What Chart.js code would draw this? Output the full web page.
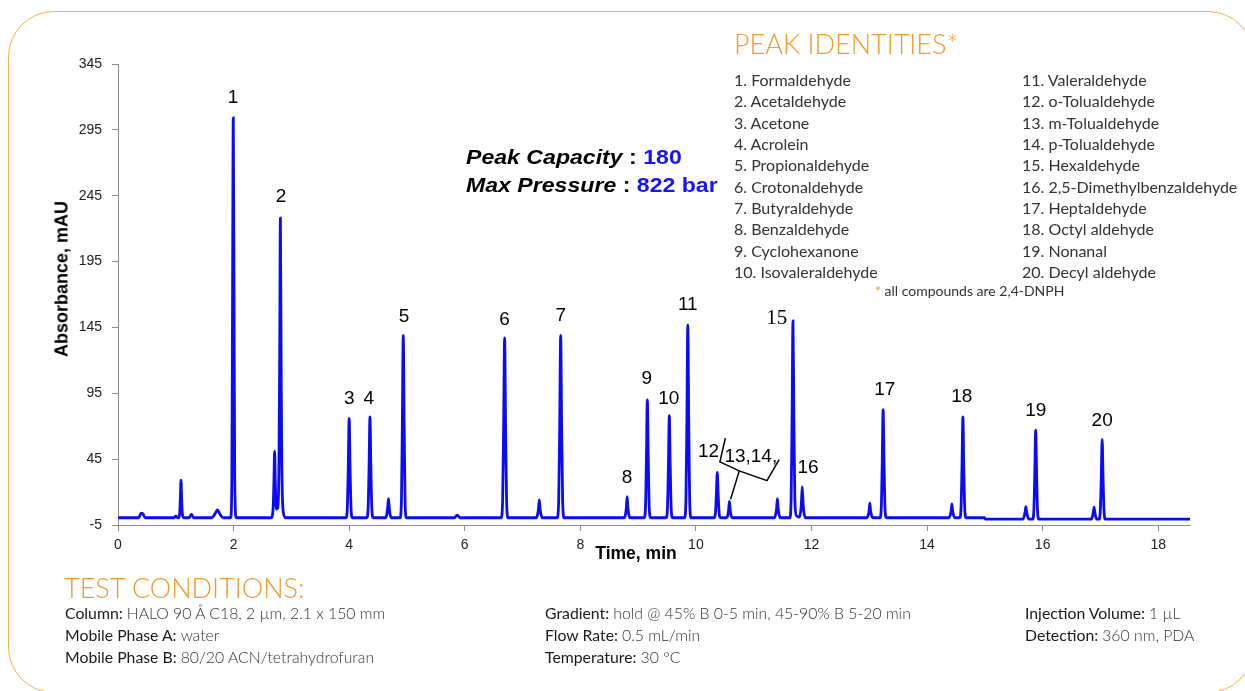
<!DOCTYPE html>
<html><head><meta charset="utf-8">
<script src="https://cdn.jsdelivr.net/npm/chart.js@4"></script>
<style>
html,body{margin:0;padding:0;background:#fff;}
#wrap{position:relative;width:1245px;height:691px;overflow:hidden;font-family:Lato,'Open Sans',sans-serif;color:#333;}
#frame{position:absolute;left:8px;top:11px;width:1246px;height:682px;border:1.5px solid #f8ad4e;border-radius:46px;box-sizing:border-box;}
#c{position:absolute;left:0;top:0;}
.t{position:absolute;white-space:nowrap;}
.orange{color:#f7982a;font-weight:300;}
.list{font-size:16px;line-height:21.35px;color:#333;}
.cond{font-size:15.8px;line-height:22px;color:#333;}
.cond b{font-weight:400;color:#1a1a1a;}
.cond span{font-weight:300;}
.pc{font-family:'Liberation Sans',Arial,sans-serif;font-weight:bold;font-size:21px;line-height:28px;color:#000;transform:scaleX(1.1);transform-origin:0 0;}
.pc i{font-style:italic;}
.pc .v{color:#1414ff;}
.axt{font-family:'Liberation Sans',Arial,sans-serif;font-weight:bold;font-size:17.5px;color:#000;}
</style></head>
<body>
<div id="wrap">
<div id="frame"></div>
<canvas id="c" width="1245" height="691"></canvas>

<div class="t axt" style="left:62px;top:279px;font-size:18px;transform:translate(-50%,-50%) rotate(-90deg);">Absorbance, mAU</div>
<div class="t axt" style="left:636px;top:553px;transform:translate(-50%,-50%);">Time, min</div>

<div class="t pc" style="left:466px;top:143px;"><i>Peak Capacity</i> : <span class="v">180</span><br><i>Max Pressure</i> : <span class="v">822 bar</span></div>

<div class="t orange" style="left:734px;top:27px;font-size:27px;line-height:34px;">PEAK IDENTITIES*</div>
<div class="t list" style="left:734px;top:69px;">1. Formaldehyde<br>2. Acetaldehyde<br>3. Acetone<br>4. Acrolein<br>5. Propionaldehyde<br>6. Crotonaldehyde<br>7. Butyraldehyde<br>8. Benzaldehyde<br>9. Cyclohexanone<br>10. Isovaleraldehyde</div>
<div class="t list" style="left:1022px;top:69px;">11. Valeraldehyde<br>12. o-Tolualdehyde<br>13. m-Tolualdehyde<br>14. p-Tolualdehyde<br>15. Hexaldehyde<br>16. 2,5-Dimethylbenzaldehyde<br>17. Heptaldehyde<br>18. Octyl aldehyde<br>19. Nonanal<br>20. Decyl aldehyde</div>
<div class="t" style="left:875px;top:282px;font-size:14px;line-height:18px;color:#333;"><span style="color:#f7982a">*</span> all compounds are 2,4-DNPH</div>

<div class="t orange" style="left:64px;top:571px;font-size:27px;line-height:34px;">TEST CONDITIONS:</div>
<div class="t cond" style="left:65px;top:602px;"><b>Column:</b> <span>HALO 90 Å C18, 2 µm, 2.1 x 150 mm</span><br><b>Mobile Phase A:</b> <span>water</span><br><b>Mobile Phase B:</b> <span>80/20 ACN/tetrahydrofuran</span></div>
<div class="t cond" style="left:545px;top:602px;"><b>Gradient:</b> <span>hold @ 45% B 0-5 min, 45-90% B 5-20 min</span><br><b>Flow Rate:</b> <span>0.5 mL/min</span><br><b>Temperature:</b> <span>30 °C</span></div>
<div class="t cond" style="left:1025px;top:602px;"><b>Injection Volume:</b> <span>1 µL</span><br><b>Detection:</b> <span>360 nm, PDA</span></div>
</div>

<script>
// ---- data ----
const xTicks = [0, 2, 4, 6, 8, 10, 12, 14, 16, 18];
const yTicks = [-5, 45, 95, 145, 195, 245, 295, 345];

// chromatogram trace: [time (min), absorbance (mAU)]
const chromatogram = [
  [0,0.5],[0.36,0.5],[0.40,4],[0.43,3.5],[0.47,0.5],
  [0.97,0.5],[1.0,2],[1.03,0.5],
  [1.045,0.5],[1.065,3],[1.078,14],[1.09,29],[1.102,14],[1.115,3],[1.14,0.5],
  [1.23,0.5],[1.27,3],[1.31,0.5],
  [1.62,0.5],[1.68,3.5],[1.72,6.5],[1.76,3.5],[1.82,0.5],
  [1.95,0.5],[1.97,30],[1.981,150],[1.995,304],[2.009,150],[2.02,30],[2.045,0.5],
  [2.65,0.5],[2.685,8],[2.698,28],[2.71,51],[2.722,28],[2.74,7],[2.765,8],[2.785,40],[2.797,115],[2.81,228],[2.823,115],[2.835,40],[2.86,5],[2.9,0.5],
  [3.945,0.5],[3.968,8],[3.984,38],[4.0,76],[4.016,38],[4.032,8],[4.055,0.5],
  [4.305,0.5],[4.328,8],[4.344,38],[4.36,77],[4.376,38],[4.392,8],[4.415,0.5],
  [4.63,0.5],[4.655,4],[4.668,9],[4.68,15],[4.692,9],[4.705,4],[4.73,0.5],
  [4.88,0.5],[4.905,14],[4.92,70],[4.936,139],[4.952,70],[4.967,14],[4.99,0.5],
  [5.82,0.5],[5.87,2.5],[5.92,0.5],
  [6.63,0.5],[6.656,14],[6.673,70],[6.69,137],[6.707,70],[6.724,14],[6.75,0.5],
  [7.24,0.5],[7.265,4],[7.278,8],[7.29,14],[7.302,8],[7.315,4],[7.34,0.5],
  [7.60,0.5],[7.626,14],[7.643,70],[7.66,139],[7.677,70],[7.694,14],[7.72,0.5],
  [8.76,0.5],[8.785,4],[8.798,9],[8.81,16.5],[8.822,9],[8.835,4],[8.86,0.5],
  [9.105,0.5],[9.128,9],[9.144,45],[9.16,90],[9.176,45],[9.192,9],[9.215,0.5],
  [9.485,0.5],[9.508,8],[9.524,39],[9.54,78],[9.556,39],[9.572,8],[9.595,0.5],
  [9.805,0.5],[9.828,15],[9.844,74],[9.86,147],[9.876,74],[9.892,15],[9.915,0.5],
  [10.315,0.5],[10.338,4],[10.354,18],[10.37,35],[10.386,18],[10.402,4],[10.425,0.5],
  [10.53,0.5],[10.555,3],[10.568,7],[10.58,13],[10.592,7],[10.605,3],[10.63,0.5],
  [11.36,0.5],[11.385,4],[11.398,8],[11.41,15],[11.422,8],[11.435,4],[11.46,0.5],
  [11.625,0.5],[11.648,15],[11.664,75],[11.68,150],[11.696,75],[11.712,15],[11.74,2],
  [11.79,1],[11.812,5],[11.826,12],[11.84,24],[11.854,12],[11.868,5],[11.895,0.5],
  [12.96,0.5],[12.985,3],[12.998,6],[13.01,11.5],[13.022,6],[13.035,3],[13.06,0.5],
  [13.185,0.5],[13.208,8],[13.224,41],[13.24,82.5],[13.256,41],[13.272,8],[13.295,0.5],
  [14.38,0.5],[14.405,3],[14.418,6],[14.43,11],[14.442,6],[14.455,3],[14.48,0.5],
  [14.565,0.5],[14.588,8],[14.604,38],[14.62,77],[14.636,38],[14.652,8],[14.675,0.5],
  [14.99,0.5],[15.01,-0.6],
  [15.66,-0.6],[15.685,2.5],[15.698,5],[15.71,9],[15.722,5],[15.735,2.5],[15.76,-0.6],
  [15.825,-0.6],[15.848,6],[15.864,33],[15.88,67],[15.896,33],[15.912,6],[15.935,-0.6],
  [16.84,-0.6],[16.865,2],[16.878,5],[16.89,8.5],[16.902,5],[16.915,2],[16.94,-0.6],
  [16.975,-0.6],[16.998,6],[17.014,30],[17.03,60],[17.046,30],[17.062,6],[17.085,-0.6],
  [18.55,-0.6]
];

// peak number labels (placed in data coordinates)
const peakLabelText = ['1','2','3','4','5','6','7','8','9','10','11','12','13,14,','15','16','17','18','19','20'];
const peakLabelTime = [1.99,2.82,4.0,4.34,4.95,6.69,7.66,8.81,9.15,9.53,9.86,10.22,10.95,11.40,11.94,13.27,14.60,15.88,17.03];
const peakLabelAbs  = [319,244,91,91,153,151,154,31,106,91,162,50.5,46.7,151.7,38.6,97.7,92.2,81.7,74.1];

// bracket annotation for peaks 13,14
const braceTime = [10.51, 10.415, 10.75, 11.23, 11.44];
const braceAbs  = [61.0, 42.9, 36.1, 28.7, 44.7];
const pointerTime = [10.75, 10.60];
const pointerAbs  = [36.1, 14.5];

const annotate = {
  id: 'annotate',
  afterDatasetsDraw(chart) {
    const {ctx, scales:{x, y}} = chart;
    ctx.save();
    ctx.fillStyle = '#000';
    ctx.textAlign = 'center';
    ctx.textBaseline = 'middle';
    peakLabelText.forEach((txt, i) => {
      ctx.font = txt === '15' ? '21px "Liberation Serif", "Times New Roman", serif'
                              : '19px "Liberation Sans", Arial, sans-serif';
      ctx.fillText(txt, x.getPixelForValue(peakLabelTime[i]), y.getPixelForValue(peakLabelAbs[i]));
    });
    ctx.strokeStyle = '#000';
    ctx.lineWidth = 1.5;
    ctx.beginPath();
    braceTime.forEach((t, i) => {
      const px = x.getPixelForValue(t), py = y.getPixelForValue(braceAbs[i]);
      i ? ctx.lineTo(px, py) : ctx.moveTo(px, py);
    });
    ctx.stroke();
    ctx.beginPath();
    ctx.moveTo(x.getPixelForValue(pointerTime[0]), y.getPixelForValue(pointerAbs[0]));
    ctx.lineTo(x.getPixelForValue(pointerTime[1]), y.getPixelForValue(pointerAbs[1]));
    ctx.stroke();
    ctx.restore();
  }
};

const axisColor = '#8c8c8c';
new Chart(document.getElementById('c'), {
  type: 'line',
  data: {
    datasets: [{
      data: chromatogram.map(p => ({x: p[0], y: p[1]})),
      borderColor: '#0b0bf5',
      borderWidth: 2.8,
      pointRadius: 0,
      cubicInterpolationMode: 'monotone',
      fill: false
    }]
  },
  options: {
    responsive: false,
    animation: false,
    events: [],
    layout: {padding: {top: 64, right: 55, left: 0, bottom: 0}},
    plugins: {legend: {display: false}, tooltip: {enabled: false}},
    scales: {
      x: {
        type: 'linear', min: 0, max: 18.55,
        afterBuildTicks: s => { s.ticks = xTicks.map(v => ({value: v})); },
        afterFit: s => { s.height = 166; },
        grid: {drawOnChartArea: false, drawTicks: true, tickLength: 6, color: axisColor},
        border: {color: axisColor, width: 1},
        ticks: {font: {family: '"Liberation Sans", Arial, sans-serif', size: 14}, color: '#222', padding: 6, maxRotation: 0, autoSkip: false}
      },
      y: {
        type: 'linear', min: -5, max: 345,
        afterBuildTicks: s => { s.ticks = yTicks.map(v => ({value: v})); },
        afterFit: s => { s.width = 118; },
        grid: {drawOnChartArea: false, drawTicks: true, tickLength: 6, color: axisColor},
        border: {color: axisColor, width: 1},
        ticks: {font: {family: '"Liberation Sans", Arial, sans-serif', size: 14}, color: '#222', padding: 10, autoSkip: false}
      }
    }
  },
  plugins: [annotate]
});
</script>
</body></html>
